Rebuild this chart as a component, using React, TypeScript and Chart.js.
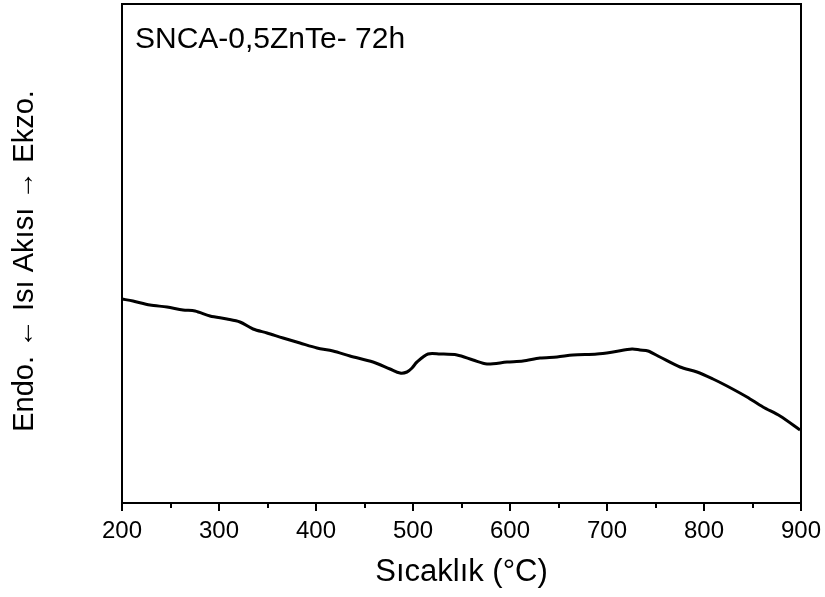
import React, { useEffect, useRef } from "react";
import { Chart, registerables } from "chart.js";

Chart.register(...registerables);

const temperatures = [200, 211.3, 228.9, 246.4, 262.9, 275.3, 290.7, 308.2, 321.6, 335.1, 349.5, 366, 383.5, 401, 417.5, 435, 458.8, 476.3, 486.6, 493.8, 499, 504.1, 515.5, 527.8, 545.4, 561.9, 576.3, 596.9, 613.4, 630.9, 648.5, 664.9, 689.7, 706.2, 725.8, 734, 742.3, 754.6, 775.3, 792.8, 809.3, 823.7, 844.3, 860.8, 878.4, 899];
const heatFlow = [204, 202, 198, 196, 193, 192, 187, 184, 181, 174, 170, 165, 160, 155, 152, 147, 141, 134, 130, 131, 135, 141, 149, 149, 148, 143, 139, 141, 142, 145, 146, 148, 149, 151, 154, 153, 152, 146, 136, 131, 124, 117, 106, 96, 87, 73];
const xTicks = [200, 300, 400, 500, 600, 700, 800, 900];
const xMinorTicks = [250, 350, 450, 550, 650, 750, 850];
const sampleLabel = "SNCA-0,5ZnTe- 72h";
const xTitle = "Sıcaklık (°C)";
const yTitle = "Endo. \u2190 Isı Akısı \u2192 Ekzo.";

const FONT = "'Liberation Sans', Arial, sans-serif";

const framePlugin = {
  id: "frame",
  afterDraw(chart: any) {
    const { ctx, chartArea } = chart;
    const xs = chart.scales.x;
    ctx.save();
    ctx.strokeStyle = "#000";
    ctx.lineWidth = 2;
    ctx.strokeRect(chartArea.left, chartArea.top, chartArea.right - chartArea.left, chartArea.bottom - chartArea.top);
    ctx.beginPath();
    xTicks.forEach((t) => {
      const px = Math.round(xs.getPixelForValue(t));
      ctx.moveTo(px, chartArea.bottom);
      ctx.lineTo(px, chartArea.bottom + 8);
    });
    xMinorTicks.forEach((t) => {
      const px = Math.round(xs.getPixelForValue(t));
      ctx.moveTo(px, chartArea.bottom);
      ctx.lineTo(px, chartArea.bottom + 5);
    });
    ctx.stroke();
    ctx.fillStyle = "#000";
    ctx.font = `30px ${FONT}`;
    ctx.textBaseline = "alphabetic";
    ctx.textAlign = "left";
    ctx.fillText(sampleLabel, chartArea.left + 13, 48);
    // y-axis title
    ctx.font = `29px ${FONT}`;
    ctx.translate(25, 261);
    ctx.rotate(-Math.PI / 2);
    ctx.textAlign = "center";
    ctx.textBaseline = "middle";
    ctx.fillText(yTitle, 0, 0);
    ctx.restore();
  },
};

export default function App() {
  const ref = useRef<HTMLCanvasElement>(null);
  useEffect(() => {
    document.body.style.margin = "0";
    const chart = new Chart(ref.current as HTMLCanvasElement, {
      type: "line",
      data: {
        datasets: [
          {
            data: temperatures.map((t, i) => ({ x: t, y: heatFlow[i] })),
            borderColor: "#000",
            borderWidth: 3,
            pointRadius: 0,
            tension: 0.3,
            fill: false,
          },
        ],
      },
      options: {
        animation: false,
        responsive: false,
        maintainAspectRatio: false,
        layout: { padding: { top: 4, right: 24, left: 0, bottom: 0 } },
        plugins: { legend: { display: false }, tooltip: { enabled: false } },
        scales: {
          x: {
            type: "linear",
            min: 200,
            max: 900,
            afterBuildTicks: (s: any) => {
              s.ticks = xTicks.map((v) => ({ value: v }));
            },
            afterFit: (s: any) => {
              s.height = 94;
              s.paddingRight = 0;
              s.paddingLeft = 0;
            },
            grid: { display: false, drawTicks: false },
            border: { display: false },
            ticks: { color: "#000", font: { family: FONT, size: 24 }, padding: 14, maxRotation: 0 },
            title: { display: true, text: xTitle, color: "#000", font: { family: FONT, size: 31 }, padding: { top: 0, bottom: 6 } },
          },
          y: {
            type: "linear",
            min: 0,
            max: 499,
            afterFit: (s: any) => {
              s.width = 122;
              s.paddingTop = 0;
              s.paddingBottom = 0;
            },
            grid: { display: false, drawTicks: false },
            border: { display: false },
            ticks: { display: false },
            title: { display: false },
          },
        },
      },
      plugins: [framePlugin],
    } as any);
    return () => chart.destroy();
  }, []);
  return <canvas ref={ref} width={825} height={597} style={{ display: "block" }} />;
}
